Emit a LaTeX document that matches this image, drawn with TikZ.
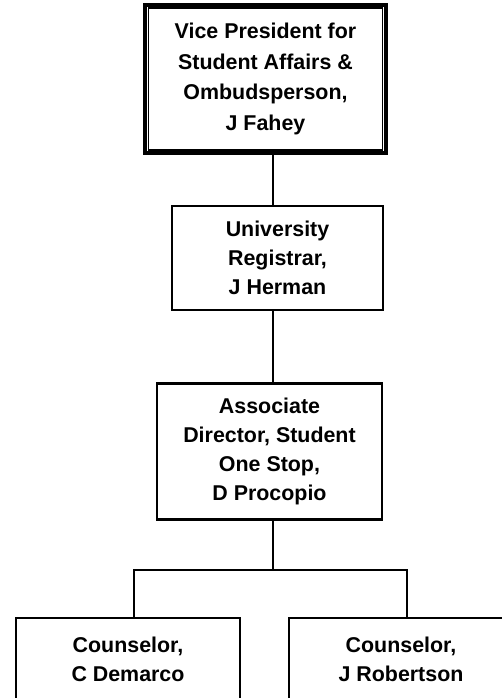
\documentclass[tikz,border=0pt]{standalone}
\usepackage{fontspec}
\setmainfont{Liberation Sans}
\usetikzlibrary{positioning}

\begin{document}
\begin{tikzpicture}[x=0.5pt, y=-0.5pt]
  \tikzstyle{box}=[draw, line width=1.3pt, align=center, inner sep=0pt,
    font=\bfseries\fontsize{10.7}{14.6}\selectfont]
  \tikzstyle{link}=[line width=1pt]

  \useasboundingbox (0,0) rectangle (502,698);
  \clip (0,0) rectangle (502,698);

  \node[box, line width=1.6pt, minimum width=120.5pt, minimum height=74pt,
    font=\bfseries\fontsize{10.7}{15.4}\selectfont] (vp) at (265.5,79)
    {Vice President for\\Student Affairs \&\\Ombudsperson,\\J Fahey};
  \draw[line width=0.7pt] ([shift={(2.5pt,-2.3pt)}]vp.north west) rectangle ([shift={(-2.5pt,2.3pt)}]vp.south east);
  \node[box, minimum width=105.5pt, minimum height=52pt, below=25pt of vp, xshift=6pt] (reg)
    {University\\Registrar,\\J Herman};
  \node[box, minimum width=112.5pt, minimum height=68pt, below=35.5pt of reg, xshift=-4pt] (asd)
    {Associate\\Director, Student\\One Stop,\\D Procopio};
  \node[box, minimum width=112pt, minimum height=41pt] (cdem) at (128,659) {Counselor,\\C Demarco};
  \node[box, minimum width=112pt, minimum height=41pt] (jrob) at (401,659) {Counselor,\\J Robertson};

  % lines hang a little right of the box centres
  \coordinate (trunk) at (273,0);
  \draw[link] (vp.south -| trunk) -- (reg.north -| trunk);
  \draw[link] (reg.south -| trunk) -- (asd.north -| trunk);
  \draw[link] (asd.south -| trunk) -- ++(0,49) coordinate (fork);
  \draw[link] ([xshift=3pt]cdem.north) |- (fork) -| ([xshift=3pt]jrob.north);
\end{tikzpicture}
\end{document}
